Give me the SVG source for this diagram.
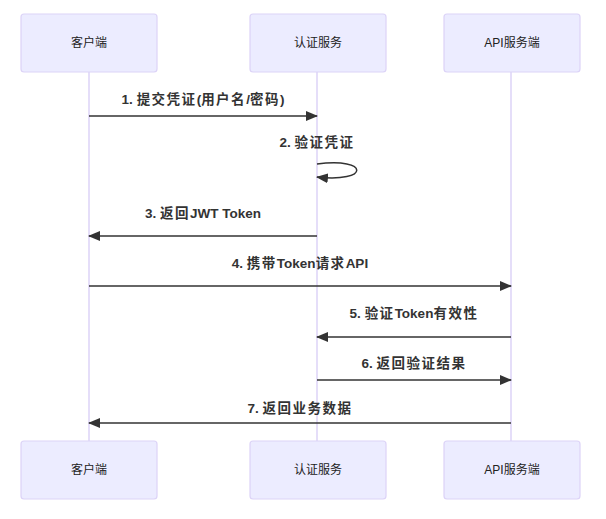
<svg xmlns="http://www.w3.org/2000/svg" width="606" height="519" viewBox="0 0 606 519">
<style>
.actor{fill:#ECECFF;stroke:#DCD3F7;stroke-width:1.2}
.atext{font-family:"Liberation Sans","Noto Sans CJK SC",sans-serif;font-size:12px;fill:#222;text-anchor:middle;dominant-baseline:central}
.life{stroke:#DCD3F7;stroke-width:1.5;fill:none}
.msg{stroke:#333;stroke-width:1.5;fill:none}
.mtext{font-family:"Liberation Sans","Noto Sans CJK SC",sans-serif;font-size:13.5px;font-weight:bold;fill:#333;text-anchor:middle;dominant-baseline:central}
.c{letter-spacing:1.5px}
</style>
<defs>
<marker id="ah" viewBox="0 0 12 10" refX="11" refY="5" markerWidth="12" markerHeight="10" markerUnits="userSpaceOnUse" orient="auto">
<path d="M0,0 L12,5 L0,10 z" fill="#333"/>
</marker>
</defs>
<rect width="606" height="519" fill="#fff"/>
<g id="lifelines">
<line class="life" x1="89" y1="72" x2="89" y2="441"/>
<line class="life" x1="317" y1="72" x2="317" y2="441"/>
<line class="life" x1="511" y1="72" x2="511" y2="441"/>
</g>
<g id="actor-client-top"><rect class="actor" x="21" y="14" width="136" height="58" rx="3"/><text class="atext" x="89" y="43">客户端</text></g>
<g id="actor-auth-top"><rect class="actor" x="250" y="14" width="136" height="58" rx="3"/><text class="atext" x="318" y="43">认证服务</text></g>
<g id="actor-api-top"><rect class="actor" x="444" y="14" width="136" height="58" rx="3"/><text class="atext" x="512" y="43">API服务端</text></g>
<g id="actor-client-bottom"><rect class="actor" x="21" y="441" width="136" height="58" rx="3"/><text class="atext" x="89" y="470">客户端</text></g>
<g id="actor-auth-bottom"><rect class="actor" x="250" y="441" width="136" height="58" rx="3"/><text class="atext" x="318" y="470">认证服务</text></g>
<g id="actor-api-bottom"><rect class="actor" x="444" y="441" width="136" height="58" rx="3"/><text class="atext" x="512" y="470">API服务端</text></g>
<g id="connectors">
<line class="msg" x1="89" y1="116" x2="317" y2="116" marker-end="url(#ah)"/>
<path class="msg" d="M317,164 C370,157 370,183 317,177" marker-end="url(#ah)"/>
<line class="msg" x1="317" y1="236" x2="89" y2="236" marker-end="url(#ah)"/>
<line class="msg" x1="89" y1="286" x2="511" y2="286" marker-end="url(#ah)"/>
<line class="msg" x1="511" y1="337" x2="317" y2="337" marker-end="url(#ah)"/>
<line class="msg" x1="317" y1="380" x2="511" y2="380" marker-end="url(#ah)"/>
<line class="msg" x1="511" y1="423" x2="89" y2="423" marker-end="url(#ah)"/>
</g>
<g id="labels">
<text class="mtext" x="203" y="99">1. <tspan class="c">提交凭证</tspan>(<tspan class="c">用户名</tspan>/<tspan class="c">密码</tspan>)</text>
<text class="mtext" x="317" y="142">2. <tspan class="c">验证凭证</tspan></text>
<text class="mtext" x="203" y="213">3. <tspan class="c">返回</tspan>JWT Token</text>
<text class="mtext" x="300" y="263">4. <tspan class="c">携带</tspan>Token<tspan class="c">请求</tspan>API</text>
<text class="mtext" x="414" y="313">5. <tspan class="c">验证</tspan>Token<tspan class="c">有效性</tspan></text>
<text class="mtext" x="414" y="363">6. <tspan class="c">返回验证结果</tspan></text>
<text class="mtext" x="300" y="408">7. <tspan class="c">返回业务数据</tspan></text>
</g>
</svg>
